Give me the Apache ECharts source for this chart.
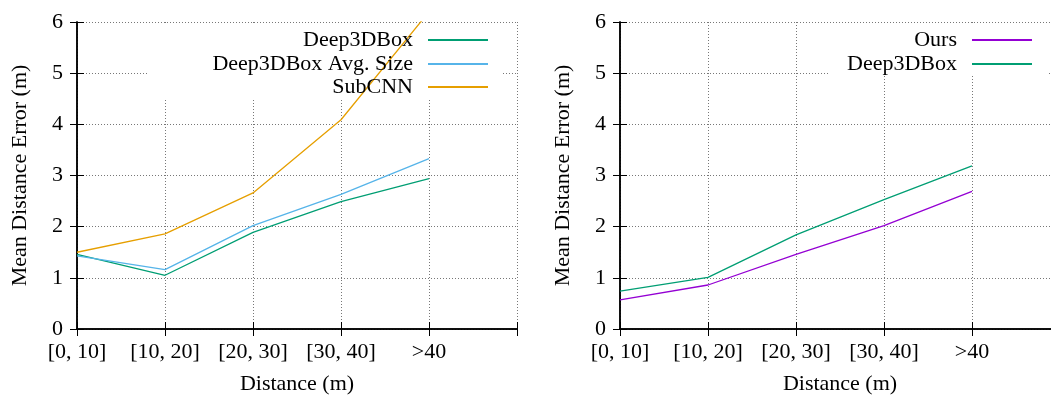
<!DOCTYPE html>
<html>
<head>
<meta charset="utf-8">
<script src="https://cdn.jsdelivr.net/npm/echarts@6/dist/echarts.min.js"></script>
<style>
  html, body { margin: 0; padding: 0; background: #fff; }
  #chart { width: 1051px; height: 399px; }
</style>
</head>
<body>
<div id="chart"></div>
<script>
// distance bins on the x axis
const categories = ['[0, 10]', '[10, 20]', '[20, 30]', '[30, 40]', '>40'];

// left plot
const deep3dboxLeft = [1.46, 1.05, 1.89, 2.49, 2.94];
const deep3dboxAvgSize = [1.43, 1.16, 2.02, 2.63, 3.33];
const subcnn = [1.50, 1.86, 2.66, 4.09, 6.2];

// right plot
const ours = [0.57, 0.86, 1.46, 2.02, 2.69];
const deep3dboxRight = [0.74, 1.01, 1.84, 2.53, 3.19];

const FONT = 'Liberation Serif';
const FS = 22;
const toPairs = arr => arr.map((v, i) => [i, v]);

function xAxes(gi) {
  return [
    {
      gridIndex: gi, type: 'value', min: 0, max: 5, interval: 1, position: 'bottom',
      axisLine: { lineStyle: { color: '#000', width: 1.5 } },
      axisTick: { inside: true, length: 7, lineStyle: { color: '#000' } },
      axisLabel: {
        formatter: v => categories[v] || '',
        fontFamily: FONT, fontSize: FS, color: '#000', margin: 12
      },
      splitLine: { show: true, lineStyle: { type: [1, 2], color: '#777' } },
      name: 'Distance (m)', nameLocation: 'middle', nameGap: 44,
      nameTextStyle: { fontFamily: FONT, fontSize: FS, color: '#000' }
    },
    {
      gridIndex: gi, type: 'value', min: 0, max: 5, interval: 1, position: 'top', z: 3,
      axisLine: { lineStyle: { color: '#000', width: 1.5 } },
      axisTick: { inside: true, length: 7, lineStyle: { color: '#000' } },
      axisLabel: { show: false },
      splitLine: { show: false }
    }
  ];
}

function yAxes(gi) {
  return [
    {
      gridIndex: gi, type: 'value', min: 0, max: 6, interval: 1, position: 'left',
      axisLine: { show: true, lineStyle: { color: '#000', width: 1.5 } },
      axisTick: { show: true, inside: true, length: 7, lineStyle: { color: '#000' } },
      axisLabel: { fontFamily: FONT, fontSize: FS, color: '#000', margin: 14 },
      splitLine: { show: true, lineStyle: { type: [1, 2], color: '#777' } },
      name: 'Mean Distance Error (m)', nameLocation: 'middle', nameRotate: 90, nameGap: 46,
      nameTextStyle: { fontFamily: FONT, fontSize: FS, color: '#000' }
    },
    {
      gridIndex: gi, type: 'value', min: 0, max: 6, interval: 1, position: 'right', z: 3,
      axisLine: { show: true, lineStyle: { color: '#000', width: 1.5 } },
      axisTick: { show: true, inside: true, length: 7, lineStyle: { color: '#000' } },
      axisLabel: { show: false },
      splitLine: { show: false }
    }
  ];
}

function line(name, data, color, gi) {
  return {
    name, type: 'line', data: toPairs(data),
    xAxisIndex: gi * 2, yAxisIndex: gi * 2,
    symbol: 'none', clip: true,
    lineStyle: { color, width: 1.3 },
    itemStyle: { color }
  };
}

function legendItem(name, right, top) {
  return {
    data: [name], right, top, align: 'right', padding: 0,
    icon: 'rect', itemWidth: 60, itemHeight: 2, selectedMode: false,
    textStyle: { fontFamily: FONT, fontSize: FS, color: '#000', padding: [0, 10, 0, 0] }
  };
}

const chart = echarts.init(document.getElementById('chart'));
chart.setOption({
  animation: false,
  backgroundColor: '#fff',
  grid: [
    { left: 77, top: 22, width: 440, height: 307, outerBoundsMode: 'none' },
    { left: 620, top: 22, width: 440, height: 307, outerBoundsMode: 'none' }
  ],
  xAxis: [...xAxes(0), ...xAxes(1)],
  yAxis: [...yAxes(0), ...yAxes(1)],
  // white key boxes hiding the grid behind the legends
  graphic: [
    { type: 'rect', z: 1, shape: { x: 148, y: 23, width: 355, height: 75 }, style: { fill: '#fff' } },
    { type: 'rect', z: 1, shape: { x: 830, y: 23, width: 218, height: 52 }, style: { fill: '#fff' } }
  ],
  legend: [
    legendItem('Deep3DBox', 563, 29),
    legendItem('Deep3DBox Avg. Size', 563, 53),
    legendItem('SubCNN', 563, 76),
    legendItem('Ours', 19, 29),
    legendItem('Deep3DBox', 19, 53)
  ],
  series: [
    line('Deep3DBox', deep3dboxLeft, '#009e73', 0),
    line('Deep3DBox Avg. Size', deep3dboxAvgSize, '#56b4e9', 0),
    line('SubCNN', subcnn, '#e69f00', 0),
    line('Ours', ours, '#9400d3', 1),
    line('Deep3DBox', deep3dboxRight, '#009e73', 1)
  ]
});
</script>
</body>
</html>
